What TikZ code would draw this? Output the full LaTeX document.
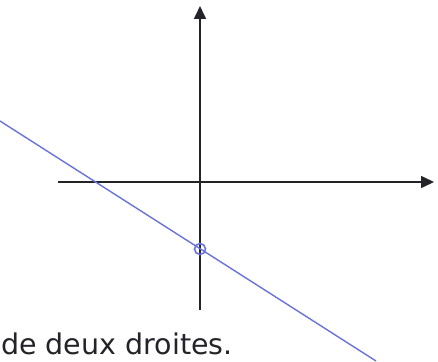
\documentclass[tikz,border=0pt]{standalone}
\usepackage{fontspec}
\setmainfont{DejaVu Sans}
\usetikzlibrary{arrows.meta}
\definecolor{droite}{RGB}{105,115,215}
\definecolor{encre}{RGB}{35,35,40}
\tikzset{axe/.style={-{Triangle[length=13pt,width=12pt]}, line width=1.6pt, encre}}
\begin{document}
\begin{tikzpicture}[x=1pt,y=-1pt]
\useasboundingbox (0,0) rectangle (438,361);
\coordinate (xg) at (58,182);
\coordinate (xd) at (434,182);
\coordinate (yb) at (200,310);
\coordinate (yh) at (200,6);
\coordinate (d1) at (0,121);
\coordinate (d2) at (376,361);

\draw[axe] (xg) -- (xd);
\draw[axe] (yb) -- (yh);
\draw[droite, line width=1.4pt] (d1) -- (d2);
\node[draw=droite, circle, inner sep=0pt, minimum size=11pt, line width=1.6pt] (p) at (200,249) {};

\node[anchor=base west, inner sep=0pt, text=encre, font=\fontsize{28.5}{32}\selectfont] (t) at (1,354) {de deux droites.};
\end{tikzpicture}
\end{document}
